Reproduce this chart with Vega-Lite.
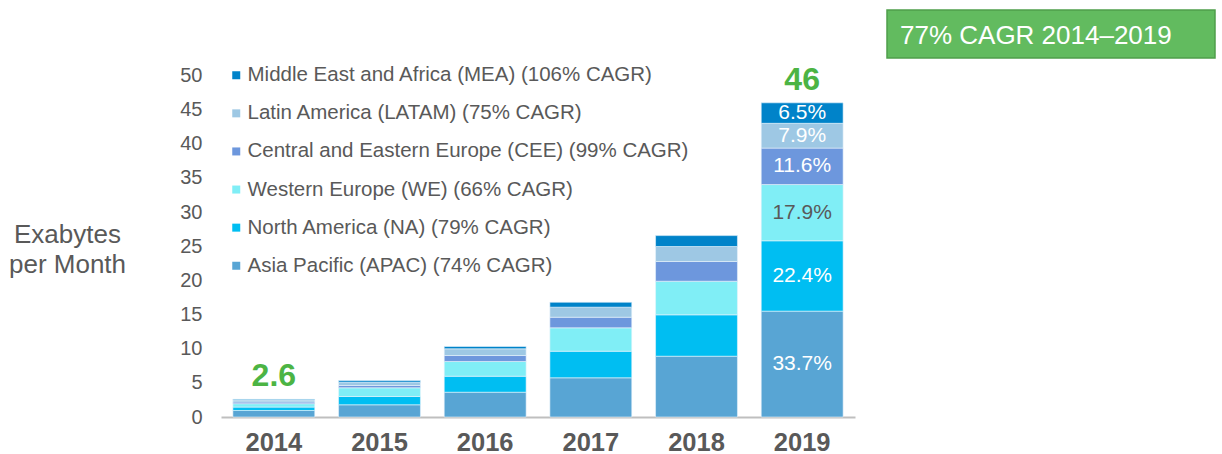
{
  "$schema": "https://vega.github.io/schema/vega-lite/v6.json",
  "width": 634,
  "height": 341.5,
  "autosize": "none",
  "padding": {"left": 221, "top": 75.5, "right": 367, "bottom": 37},
  "background": "white",
  "config": {
    "view": {"stroke": null},
    "font": "Liberation Sans",
    "axisY": {
      "values": [0, 5, 10, 15, 20, 25, 30, 35, 40, 45, 50], "labelOverlap": false,
      "grid": false, "domain": false, "ticks": false,
      "labelFontSize": 20, "labelColor": "#595959", "labelPadding": 19,
      "titleAngle": 0,
      "titleX": -154, "titleY": 158.5, "titleAlign": "center", "titleBaseline": "middle",
      "titleFontSize": 26, "titleFontWeight": "normal", "titleColor": "#595959",
      "titleLineHeight": 30
    }
  },
  "datasets": {
    "regions": [
      {"year": "2014", "region": "Asia Pacific (APAC) (74% CAGR)", "value": 0.95},
      {"year": "2014", "region": "North America (NA) (79% CAGR)", "value": 0.5},
      {"year": "2014", "region": "Western Europe (WE) (66% CAGR)", "value": 0.5},
      {"year": "2014", "region": "Central and Eastern Europe (CEE) (99% CAGR)", "value": 0.25},
      {"year": "2014", "region": "Latin America (LATAM) (75% CAGR)", "value": 0.3},
      {"year": "2014", "region": "Middle East and Africa (MEA) (106% CAGR)", "value": 0.1},
      {"year": "2015", "region": "Asia Pacific (APAC) (74% CAGR)", "value": 1.79},
      {"year": "2015", "region": "North America (NA) (79% CAGR)", "value": 1.21},
      {"year": "2015", "region": "Western Europe (WE) (66% CAGR)", "value": 1.28},
      {"year": "2015", "region": "Central and Eastern Europe (CEE) (99% CAGR)", "value": 0.33},
      {"year": "2015", "region": "Latin America (LATAM) (75% CAGR)", "value": 0.49},
      {"year": "2015", "region": "Middle East and Africa (MEA) (106% CAGR)", "value": 0.24},
      {"year": "2016", "region": "Asia Pacific (APAC) (74% CAGR)", "value": 3.63},
      {"year": "2016", "region": "North America (NA) (79% CAGR)", "value": 2.34},
      {"year": "2016", "region": "Western Europe (WE) (66% CAGR)", "value": 2.16},
      {"year": "2016", "region": "Central and Eastern Europe (CEE) (99% CAGR)", "value": 0.87},
      {"year": "2016", "region": "Latin America (LATAM) (75% CAGR)", "value": 0.99},
      {"year": "2016", "region": "Middle East and Africa (MEA) (106% CAGR)", "value": 0.33},
      {"year": "2017", "region": "Asia Pacific (APAC) (74% CAGR)", "value": 5.74},
      {"year": "2017", "region": "North America (NA) (79% CAGR)", "value": 3.89},
      {"year": "2017", "region": "Western Europe (WE) (66% CAGR)", "value": 3.43},
      {"year": "2017", "region": "Central and Eastern Europe (CEE) (99% CAGR)", "value": 1.55},
      {"year": "2017", "region": "Latin America (LATAM) (75% CAGR)", "value": 1.47},
      {"year": "2017", "region": "Middle East and Africa (MEA) (106% CAGR)", "value": 0.72},
      {"year": "2018", "region": "Asia Pacific (APAC) (74% CAGR)", "value": 8.9},
      {"year": "2018", "region": "North America (NA) (79% CAGR)", "value": 6.06},
      {"year": "2018", "region": "Western Europe (WE) (66% CAGR)", "value": 4.92},
      {"year": "2018", "region": "Central and Eastern Europe (CEE) (99% CAGR)", "value": 2.89},
      {"year": "2018", "region": "Latin America (LATAM) (75% CAGR)", "value": 2.19},
      {"year": "2018", "region": "Middle East and Africa (MEA) (106% CAGR)", "value": 1.6},
      {"year": "2019", "region": "Asia Pacific (APAC) (74% CAGR)", "value": 15.5, "pct": "33.7%"},
      {"year": "2019", "region": "North America (NA) (79% CAGR)", "value": 10.3, "pct": "22.4%"},
      {"year": "2019", "region": "Western Europe (WE) (66% CAGR)", "value": 8.23, "pct": "17.9%"},
      {"year": "2019", "region": "Central and Eastern Europe (CEE) (99% CAGR)", "value": 5.34, "pct": "11.6%"},
      {"year": "2019", "region": "Latin America (LATAM) (75% CAGR)", "value": 3.63, "pct": "7.9%"},
      {"year": "2019", "region": "Middle East and Africa (MEA) (106% CAGR)", "value": 3.0, "pct": "6.5%"}
    ],
    "note": [{"label": "77% CAGR 2014–2019"}]
  },
  "data": {"name": "regions"},
  "encoding": {
    "x": {
      "field": "year", "type": "ordinal",
      "scale": {"paddingInner": 0.225, "paddingOuter": 0.1125},
      "axis": {
        "title": null, "labelAngle": 0, "labelFontSize": 25.5, "labelFontWeight": "bold",
        "labelColor": "#595959", "labelPadding": 13, "ticks": false,
        "domainColor": "#bfbfbf", "domainWidth": 2
      }
    }
  },
  "layer": [
    {
      "transform": [
        {"calculate": "indexof(['Asia Pacific (APAC) (74% CAGR)','North America (NA) (79% CAGR)','Western Europe (WE) (66% CAGR)','Central and Eastern Europe (CEE) (99% CAGR)','Latin America (LATAM) (75% CAGR)','Middle East and Africa (MEA) (106% CAGR)'], datum.region)", "as": "idx"},
        {"stack": "value", "groupby": ["year"], "sort": [{"field": "idx", "order": "ascending"}], "as": ["v0", "v1"]}
      ],
      "mark": {"type": "bar", "stroke": "#e8f4fb", "strokeWidth": 0.6},
      "encoding": {
        "y": {
          "field": "v0", "type": "quantitative",
          "scale": {"domain": [0, 50], "nice": false},
          "axis": {"title": ["Exabytes", "per Month"]}
        },
        "y2": {"field": "v1"},
        "color": {
          "field": "region", "type": "nominal",
          "scale": {
            "domain": [
              "Asia Pacific (APAC) (74% CAGR)",
              "North America (NA) (79% CAGR)",
              "Western Europe (WE) (66% CAGR)",
              "Central and Eastern Europe (CEE) (99% CAGR)",
              "Latin America (LATAM) (75% CAGR)",
              "Middle East and Africa (MEA) (106% CAGR)"
            ],
            "range": ["#58a5d4", "#00bef2", "#80eef6", "#6d97dd", "#9ec8e4", "#0083c9"]
          },
          "legend": {
            "title": null, "orient": "none", "legendX": 5, "legendY": -10.5,
            "values": [
              "Middle East and Africa (MEA) (106% CAGR)",
              "Latin America (LATAM) (75% CAGR)",
              "Central and Eastern Europe (CEE) (99% CAGR)",
              "Western Europe (WE) (66% CAGR)",
              "North America (NA) (79% CAGR)",
              "Asia Pacific (APAC) (74% CAGR)"
            ],
            "symbolType": "square", "symbolSize": 64, "symbolStrokeWidth": 0,
            "labelFontSize": 20.5, "labelColor": "#595959", "labelOffset": 1,
            "labelLimit": 700, "rowPadding": 17.1, "padding": 0
          }
        }
      }
    },
    {
      "transform": [
        {"calculate": "indexof(['Asia Pacific (APAC) (74% CAGR)','North America (NA) (79% CAGR)','Western Europe (WE) (66% CAGR)','Central and Eastern Europe (CEE) (99% CAGR)','Latin America (LATAM) (75% CAGR)','Middle East and Africa (MEA) (106% CAGR)'], datum.region)", "as": "idx"},
        {"stack": "value", "groupby": ["year"], "sort": [{"field": "idx", "order": "ascending"}], "as": ["v0", "v1"]},
        {"filter": "datum.pct"},
        {"calculate": "(datum.v0 + datum.v1) / 2", "as": "vm"}
      ],
      "mark": {"type": "text", "fontSize": 21, "baseline": "middle", "align": "center"},
      "encoding": {
        "y": {"field": "vm", "type": "quantitative", "axis": {"title": ["Exabytes", "per Month"]}},
        "text": {"field": "pct"},
        "color": {
          "condition": {"test": "datum.region === 'Western Europe (WE) (66% CAGR)'", "value": "#595959"},
          "value": "white"
        }
      }
    },
    {
      "transform": [
        {"filter": "datum.year == '2014' || datum.year == '2019'"},
        {"aggregate": [{"op": "sum", "field": "value", "as": "total"}], "groupby": ["year"]}
      ],
      "mark": {"type": "text", "fontSize": 32, "fontWeight": "bold", "color": "#4cb444", "baseline": "alphabetic", "dy": -13},
      "encoding": {
        "y": {"field": "total", "type": "quantitative", "axis": {"title": ["Exabytes", "per Month"]}},
        "text": {"field": "total", "format": ".2~r"}
      }
    },
    {
      "data": {"name": "note"},
      "mark": {"type": "rect", "fill": "#62bb5f", "stroke": "#4f9f4b", "strokeWidth": 1.5},
      "encoding": {
        "x": {"value": 666}, "x2": {"value": 994},
        "y": {"value": -65.5}, "y2": {"value": -17.5}
      }
    },
    {
      "data": {"name": "note"},
      "mark": {"type": "text", "fontSize": 26, "color": "white", "align": "left", "baseline": "middle"},
      "encoding": {
        "x": {"value": 679}, "y": {"value": -39.5},
        "text": {"field": "label"}
      }
    }
  ]
}
